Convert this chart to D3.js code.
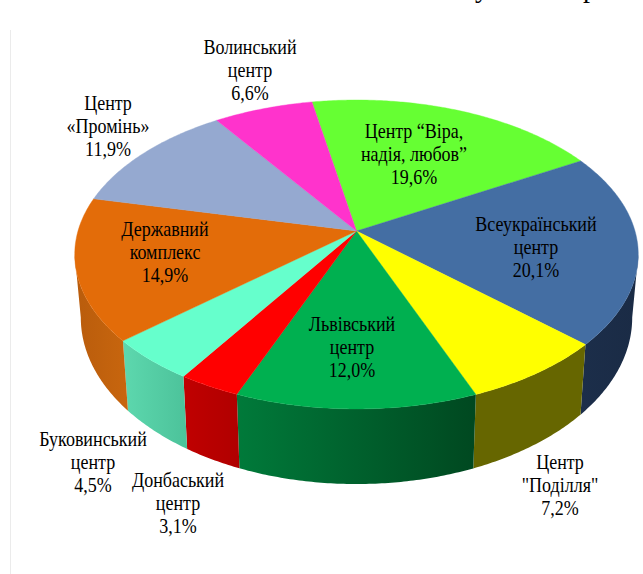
<!DOCTYPE html>
<html>
<head>
<meta charset="utf-8">
<script src="https://cdn.jsdelivr.net/npm/d3@7"></script>
<style>
  html, body { margin: 0; padding: 0; background: #fff; overflow: hidden; }
  text { font-family: "Liberation Serif", serif; fill: #000; }
</style>
</head>
<body>
<div id="chart"></div>
<script>
// chart values, clockwise from the top
var centers = [
    ["Центр “Віра,", "надія, любов”"],
    ["Всеукраїнський", "центр"],
    ["Центр", "\"Поділля\""],
    ["Львівський", "центр"],
    ["Донбаський", "центр"],
    ["Буковинський", "центр"],
    ["Державний", "комплекс"],
    ["Центр", "«Промінь»"],
    ["Волинський", "центр"]
];
var shares = [19.6, 20.1, 7.2, 12.0, 3.1, 4.5, 14.9, 11.9, 6.6];
var topColors = ["#66ff33", "#446ea3", "#ffff00", "#00b050", "#ff0000", "#66ffcc", "#e36c09", "#95a9d0", "#ff33cc"];
var sideLeft = ["#3f9c20", "#1c2e4a", "#666600", "#007a3a", "#c00000", "#5dd8ae", "#b95c0c", "#5b6a86", "#a02080"];
var sideRight = ["#3f9c20", "#1a2b45", "#666600", "#004820", "#b00000", "#4cc29a", "#c8660e", "#5b6a86", "#a02080"];
var labelSpots = [[414, 138], [536, 231], [560, 469], [352, 331], [178, 487], [93, 446], [165, 236], [108, 110], [250, 54]];

var width = 643, height = 574;
var lineGap = 23;

// the pie lies in perspective, so a flat circle is pushed through a projective map
var tilt = 0.152;
var midX = 356.5;
var topRing = { a: 278.5, b: 150.9, y: 231 };
var lowRing = { a: 272.5, b: 162.6, y: 292.3 };
var startAngle = -10.6 * Math.PI / 180;
var edgeAngle = Math.acos(-tilt);  // where the wall turns away from the viewer

function project(ring, angle) {
    var u = Math.sin(angle), v = -Math.cos(angle);
    var w = 1 - tilt * v;
    return [midX + ring.a * u / w, ring.y + ring.b * v / w];
}

function arcPoints(ring, from, to) {
    var n = Math.max(2, Math.ceil(Math.abs(to - from) / 0.01));
    return d3.range(n + 1).map(function (i) {
        return project(ring, from + (to - from) * i / n);
    });
}

var pie = d3.pie()
    .sort(null)
    .startAngle(startAngle)
    .endAngle(startAngle + 2 * Math.PI)
    .value(function (d) { return d; });

var slices = pie(shares);
var line = d3.line();

var topColor = d3.scaleOrdinal().domain(d3.range(shares.length)).range(topColors);

var svg = d3.select("#chart")
    .append("svg")
    .attr("width", width)
    .attr("height", height);

// faint frame left of the chart
svg.append("line")
    .attr("x1", 10.5).attr("x2", 10.5)
    .attr("y1", 30).attr("y2", height)
    .style("stroke", "#ebebeb")
    .style("stroke-width", 1);

// what is left of the cut off heading
svg.selectAll(".cut")
    .data(["у", "р"])
    .enter()
    .append("text")
    .attr("class", "cut")
    .attr("x", function (d, i) { return i == 0 ? 482 : 590; })
    .attr("y", -3)
    .attr("text-anchor", "middle")
    .style("font-size", "28px")
    .text(function (d) { return d; });

var defs = svg.append("defs");

// walls, only the part that faces the viewer
slices.forEach(function (s, i) {
    var from = Math.max(s.startAngle, edgeAngle);
    var to = Math.min(s.endAngle, 2 * Math.PI - edgeAngle);
    if (from >= to) return;

    var outline = arcPoints(topRing, from, to).concat(arcPoints(lowRing, to, from));
    var xs = d3.extent(outline, function (p) { return p[0]; });

    var grad = defs.append("linearGradient")
        .attr("id", "side" + i)
        .attr("gradientUnits", "userSpaceOnUse")
        .attr("x1", xs[0]).attr("x2", xs[1])
        .attr("y1", 0).attr("y2", 0);
    grad.append("stop").attr("offset", "0%").attr("stop-color", sideLeft[i]);
    grad.append("stop").attr("offset", "100%").attr("stop-color", sideRight[i]);

    svg.append("path")
        .attr("d", line(outline) + "Z")
        .style("fill", "url(#side" + i + ")");
});

// top faces
svg.selectAll(".slice")
    .data(slices)
    .enter()
    .append("path")
    .attr("class", "slice")
    .attr("d", function (s) {
        return line([[midX, topRing.y]].concat(arcPoints(topRing, s.startAngle, s.endAngle))) + "Z";
    })
    .style("fill", function (s, i) { return topColor(i); })
    .style("stroke", function (s, i) { return topColor(i); })
    .style("stroke-width", 0.4);

// labels
var labels = svg.selectAll(".label")
    .data(slices)
    .enter()
    .append("text")
    .attr("class", "label")
    .attr("text-anchor", "middle")
    .attr("transform", function (s, i) {
        return "translate(" + labelSpots[i][0] + "," + labelSpots[i][1] + ") scale(0.9,1)";
    })
    .style("font-size", "20px");

labels.selectAll("tspan")
    .data(function (s, i) {
        return centers[i].concat(s.value.toFixed(1).replace(".", ",") + "%");
    })
    .enter()
    .append("tspan")
    .attr("x", 0)
    .attr("y", function (d, i) { return i * lineGap; })
    .text(function (d) { return d; });
</script>
</body>
</html>
